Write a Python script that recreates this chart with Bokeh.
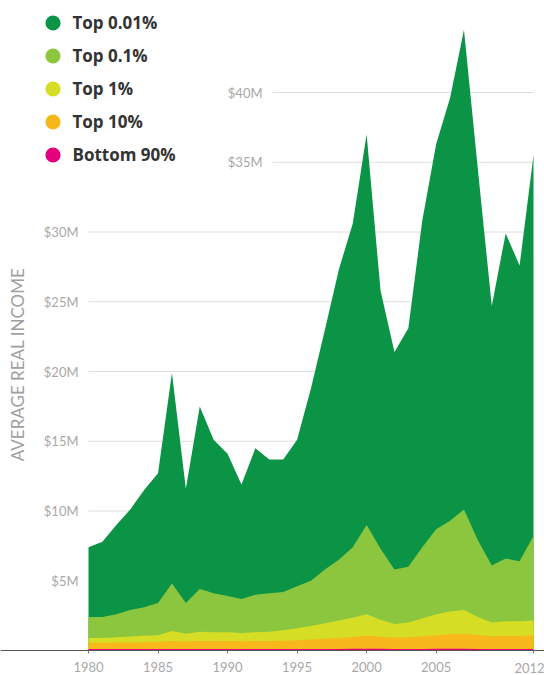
import math
from bokeh.plotting import figure
from bokeh.models import FixedTicker, Legend, LegendItem, Label, Range1d, ColumnDataSource
from bokeh.embed import file_html
from bokeh.resources import INLINE

# ---------------- data ----------------
years = list(range(1980, 2013))

top_001 = [7.4, 7.8, 9.0, 10.1, 11.5, 12.7, 19.9, 11.6, 17.5, 15.1,
           14.1, 11.9, 14.5, 13.7, 13.7, 15.1, 18.8, 23.0, 27.3, 30.6,
           37.0, 25.8, 21.4, 23.1, 30.8, 36.3, 39.6, 44.5, 34.5, 24.7,
           29.9, 27.6, 35.5]
top_01 = [2.4, 2.4, 2.6, 2.9, 3.1, 3.4, 4.8, 3.4, 4.4, 4.1,
          3.9, 3.7, 4.0, 4.1, 4.2, 4.6, 5.0, 5.8, 6.5, 7.4,
          9.0, 7.3, 5.8, 6.0, 7.4, 8.7, 9.3, 10.1, 7.9, 6.1,
          6.6, 6.4, 8.2]
top_1 = [0.9, 0.9, 0.95, 1.0, 1.05, 1.1, 1.4, 1.2, 1.35, 1.3,
         1.3, 1.25, 1.3, 1.35, 1.45, 1.6, 1.75, 1.95, 2.15, 2.35,
         2.6, 2.2, 1.9, 2.0, 2.3, 2.6, 2.8, 2.9, 2.4, 2.0,
         2.1, 2.1, 2.15]
top_10 = [0.55, 0.55, 0.57, 0.58, 0.6, 0.62, 0.68, 0.65, 0.68, 0.68,
          0.68, 0.66, 0.68, 0.68, 0.7, 0.74, 0.78, 0.84, 0.9, 0.96,
          1.05, 0.98, 0.93, 0.95, 1.02, 1.1, 1.16, 1.2, 1.12, 1.02,
          1.05, 1.04, 1.1]
bottom_90 = [0.10, 0.10, 0.10, 0.10, 0.10, 0.10, 0.11, 0.10, 0.11, 0.11,
             0.11, 0.10, 0.10, 0.10, 0.10, 0.10, 0.11, 0.11, 0.11, 0.12,
             0.12, 0.12, 0.11, 0.11, 0.11, 0.12, 0.12, 0.12, 0.11, 0.11,
             0.11, 0.11, 0.11]

series_names = ["Top 0.01%", "Top 0.1%", "Top 1%", "Top 10%", "Bottom 90%"]
series_values = [top_001, top_01, top_1, top_10, bottom_90]
series_colors = ["#0b9446", "#8cc63f", "#d5de24", "#f8b71a", "#e4007c"]

x_ticks = [1980, 1985, 1990, 1995, 2000, 2005, 2012]
x_labels = ["1980", "1985", "1990", "1995", "2000", "2005", "2012"]
y_ticks = [5, 10, 15, 20, 25, 30, 35, 40]
y_labels = ["$5M", "$10M", "$15M", "$20M", "$25M", "$30M", "$35M", "$40M"]
y_title = "AVERAGE REAL INCOME"

# ---------------- layout / styles ----------------
FONT = "Lato"
TICK_COLOR = "#a8a8a8"
GRID_COLOR = "#dedede"
W, H = 544, 675
X0_PX, X1_PX = 88, 533          # pixel position of first / last year
BASE_PX, TOP_TICK_PX = 650, 92   # pixel position of 0 and of the top tick
px_per_year = (X1_PX - X0_PX) / (years[-1] - years[0])
px_per_unit = (BASE_PX - TOP_TICK_PX) / y_ticks[-1]
x_start = years[0] - X0_PX / px_per_year
x_end = years[-1] + (W - X1_PX) / px_per_year
y_end = BASE_PX / px_per_unit
y_start = -(H - BASE_PX) / px_per_unit

p = figure(width=W, height=H, output_backend="svg", toolbar_location=None,
           x_range=Range1d(x_start, x_end), y_range=Range1d(y_start, y_end),
           min_border=0)
p.outline_line_color = None
p.background_fill_color = "white"
p.border_fill_color = "white"
p.xgrid.visible = False
p.ygrid.visible = False

# grid lines (lower ones span the plot, upper ones start right of the legend)
low, high = y_ticks[:6], y_ticks[6:]
upper_start = years[0] + (272 - X0_PX) / px_per_year
p.segment(x0=[years[0]] * len(low), y0=low, x1=[years[-1]] * len(low), y1=low,
          line_color=GRID_COLOR, line_width=1, level="underlay")
p.segment(x0=[upper_start] * len(high), y0=high, x1=[years[-1]] * len(high), y1=high,
          line_color=GRID_COLOR, line_width=1, level="underlay")

# areas (overlapping, largest at the back)
src = ColumnDataSource(dict(x=years, **{f"s{i}": v for i, v in enumerate(series_values)}))
for i, col in enumerate(series_colors):
    p.varea(x="x", y1=0, y2=f"s{i}", source=src, fill_color=col, fill_alpha=1.0)

# y axis (inside the frame at the first year)
ya = p.yaxis[0]
ya.fixed_location = years[0]
ya.ticker = FixedTicker(ticks=low)
ya.major_label_overrides = {t: l for t, l in zip(y_ticks[:6], y_labels[:6])}
ya.axis_line_color = None
ya.major_tick_line_color = None
ya.minor_tick_line_color = None
ya.major_tick_in = 0
ya.major_tick_out = 0
ya.major_label_standoff = 10
ya.major_label_text_font = FONT
ya.major_label_text_font_size = "13px"
ya.major_label_text_color = TICK_COLOR

lab_right = years[0] + (262 - X0_PX) / px_per_year
for t, lab in zip(high, y_labels[6:]):
    p.add_layout(Label(x=lab_right, y=t, text=lab, text_align="right", text_baseline="middle",
                       text_font=FONT, text_font_size="13px", text_color=TICK_COLOR))

p.add_layout(Label(x=16.5, y=H - 364, x_units="screen", y_units="screen", text=y_title,
                   angle=math.pi / 2, text_align="center", text_baseline="middle",
                   text_font=FONT, text_font_size="17px", text_color="#a0a0a0"))

# x axis (inside the frame at zero)
xa = p.xaxis[0]
xa.fixed_location = 0
xa.ticker = FixedTicker(ticks=x_ticks)
ov = {t: l for t, l in zip(x_ticks, x_labels)}
ov[x_ticks[-1]] = ""
xa.major_label_overrides = ov
xa.axis_line_color = "#555555"
xa.axis_line_width = 1
xa.major_tick_line_color = "#777777"
xa.major_tick_in = 0
xa.major_tick_out = 3
xa.minor_tick_line_color = None
xa.major_label_standoff = 8
xa.major_label_text_font = FONT
xa.major_label_text_font_size = "13px"
xa.major_label_text_color = TICK_COLOR
p.add_layout(Label(x=x_ticks[-1], y=H - 662, y_units="screen", x_offset=-4, text=x_labels[-1],
                   text_align="center", text_baseline="top",
                   text_font=FONT, text_font_size="13px", text_color=TICK_COLOR))

# legend (swatch renderers hold one non-drawn point so the legend can draw its circle)
items = []
for name, col in zip(series_names, series_colors):
    r = p.scatter(x=[years[0]], y=[float("nan")], marker="circle", fill_color=col,
                  line_color=col, line_width=2, size=10)
    items.append(LegendItem(label=name, renderers=[r]))
legend = Legend(items=items, location=(35.5, H - 170.5), glyph_width=33, glyph_height=33,
                label_height=33, spacing=0, padding=0, margin=0, label_standoff=4,
                border_line_color=None, background_fill_alpha=0,
                label_text_font="Open Sans", label_text_font_style="bold",
                label_text_font_size="17px", label_text_color="#333333")
p.add_layout(legend)

open("out.html", "w").write(file_html(p, INLINE))
